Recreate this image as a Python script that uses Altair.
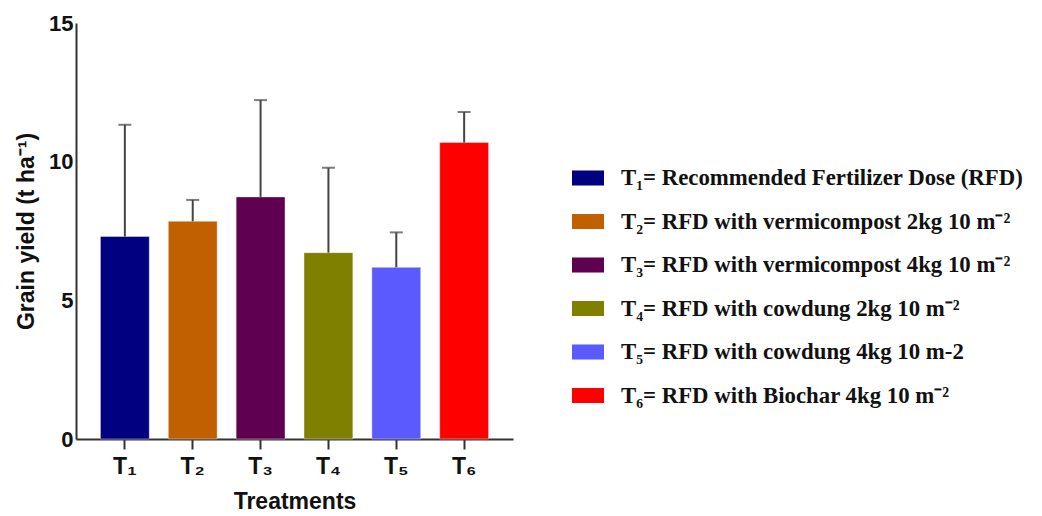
import altair as alt
import pandas as pd

treatments = ["T₁", "T₂", "T₃", "T₄", "T₅", "T₆"]
means = [7.30, 7.85, 8.73, 6.72, 6.19, 10.69]
uppers = [11.33, 8.62, 12.22, 9.78, 7.45, 11.79]
legend_labels = [
    "T₁= Recommended Fertilizer Dose (RFD)",
    "T₂= RFD with vermicompost 2kg 10 m⁻²",
    "T₃= RFD with vermicompost 4kg 10 m⁻²",
    "T₄= RFD with cowdung 2kg 10 m⁻²",
    "T₅= RFD with cowdung 4kg 10 m-2",
    "T₆= RFD with Biochar 4kg 10 m⁻²",
]
colors = ["#000080", "#C06000", "#600050", "#808000", "#5A5AFF", "#FF0000"]

df = pd.DataFrame({
    "Treatment": treatments,
    "Mean": means,
    "Upper": uppers,
    "Label": legend_labels,
})

x_enc = alt.X(
    "Treatment:N",
    sort=treatments,
    title="Treatments",
    scale=alt.Scale(paddingInner=0.28, paddingOuter=0.36),
    axis=alt.Axis(
        labelAngle=0,
        labelFont="Liberation Sans",
        labelFontWeight="bold",
        labelFontSize=23,
        labelColor="#111",
        labelPadding=6,
        tickSize=10,
        tickWidth=2,
        tickColor="#333",
        domainWidth=2,
        domainColor="#333",
        titleFont="Liberation Sans",
        titleFontWeight="bold",
        titleFontSize=23,
        titleColor="#111",
        titlePadding=12,
        grid=False,
    ),
)

y_scale = alt.Scale(domain=[0, 15], nice=False)
y_axis = alt.Axis(
    values=[0, 5, 10, 15],
    ticks=False,
    labelFont="Liberation Sans",
    labelFontWeight="bold",
    labelFontSize=22,
    labelColor="#111",
    labelPadding=3,
    domainWidth=2,
    domainColor="#333",
    title="Grain yield (t ha⁻¹)",
    titleFont="Liberation Sans",
    titleFontWeight="bold",
    titleFontSize=23,
    titleColor="#111",
    titlePadding=10,
    grid=False,
)

bars = alt.Chart(df).mark_bar(stroke="white", strokeOpacity=0.4, strokeWidth=1).encode(
    x=x_enc,
    y=alt.Y("Mean:Q", scale=y_scale, axis=y_axis),
    color=alt.Color(
        "Label:N",
        sort=legend_labels,
        scale=alt.Scale(domain=legend_labels, range=colors),
        legend=alt.Legend(
            title=None,
            orient="none",
            legendX=496,
            legendY=139,
            labelFont="Liberation Serif",
            labelFontWeight="bold",
            labelFontSize=22.8,
            labelColor="#111",
            labelLimit=600,
            labelOffset=17,
            symbolType="M-1,-0.47H1V0.47H-1Z",
            symbolSize=1024,
            symbolStrokeWidth=0,
            symbolOpacity=1,
            rowPadding=15.5,
        ),
    ),
)

rules = alt.Chart(df).mark_rule(color="#444", strokeWidth=2).encode(
    x=alt.X("Treatment:N", sort=treatments),
    y=alt.Y("Mean:Q", scale=y_scale),
    y2="Upper:Q",
)

caps = alt.Chart(df).mark_tick(color="#444", thickness=2, size=13).encode(
    x=alt.X("Treatment:N", sort=treatments),
    y=alt.Y("Upper:Q", scale=y_scale),
)

chart = (bars + rules + caps).properties(
    width=437,
    height=416,
    autosize=alt.AutoSizeParams(type="none"),
    padding={"left": 68, "top": 15, "right": 521, "bottom": 75},
).configure(background="white", view=alt.ViewConfig(stroke=None))

chart.save("out.html", embed_options={"renderer": "svg", "actions": False})
